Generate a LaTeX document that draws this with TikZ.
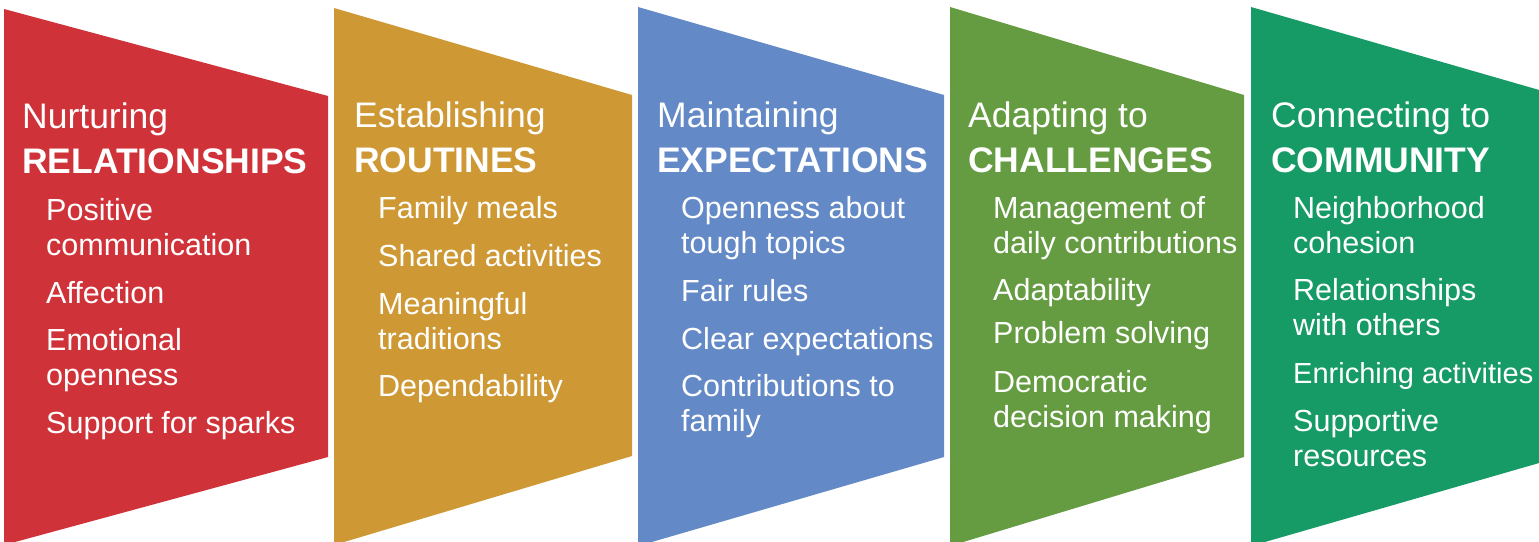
\documentclass[tikz,border=0pt]{standalone}
\usepackage{fontspec}
\setmainfont{Liberation Sans}
\usepackage{tikz}
\usetikzlibrary{positioning}
\definecolor{nurturered}{RGB}{207,51,57}
\definecolor{routinegold}{RGB}{206,153,53}
\definecolor{expectblue}{RGB}{99,137,199}
\definecolor{adaptgreen}{RGB}{101,156,65}
\definecolor{communeteal}{RGB}{22,155,102}
\tikzset{
    % base anchor of a two-line node sits on its last line
    heading/.style={anchor=base west, inner sep=0pt, text=white, align=left,
        font=\fontsize{35.5}{45}\selectfont},
    asset/.style={anchor=base west, inner sep=0pt, text=white, align=left,
        font=\fontsize{30.5}{35}\selectfont},
}

\begin{document}
\begin{tikzpicture}[x=1pt, y=-1pt]
	\useasboundingbox (0,0) rectangle (1539,541);
	\clip (0,0) rectangle (1539,541);
	\fill[white] (0,0) rectangle (1539,541);
%
	\fill[nurturered] (4,9)--(328,96)--(328,457)--(4,545)--cycle;
	\node[heading] (nurt) at (22,173) {Nurturing\\\textbf{RELATIONSHIPS}};
	\node[asset] (nurt1) at (46,255) {Positive\\communication};
	\node[asset] (nurt2) at (46,303) {Affection};
	\node[asset] (nurt3) at (46,385) {Emotional\\openness};
	\node[asset] (nurt4) at (46,433) {Support for sparks};
%
	\fill[routinegold] (334,8)--(632,95)--(632,456)--(334,545)--cycle;
	\node[heading] (rout) at (354,172) {Establishing\\\textbf{ROUTINES}};
	\node[asset] (rout1) at (378,218) {Family meals};
	\node[asset] (rout2) at (378,266) {Shared activities};
	\node[asset] (rout3) at (378,349) {Meaningful\\traditions};
	\node[asset] (rout4) at (378,396) {Dependability};
%
	\fill[expectblue] (638,7)--(944,95)--(944,457)--(638,546)--cycle;
	\node[heading] (expt) at (657,172) {Maintaining\\\textbf{EXPECTATIONS}};
	\node[asset] (expt1) at (681,253) {Openness about\\tough topics};
	\node[asset] (expt2) at (681,301) {Fair rules};
	\node[asset] (expt3) at (681,349) {Clear expectations};
	\node[asset] (expt4) at (681,431) {Contributions to\\family};
%
	\fill[adaptgreen] (950,7)--(1244,95)--(1244,457)--(950,546)--cycle;
	\node[heading] (adpt) at (968,172) {Adapting to\\\textbf{CHALLENGES}};
	\node[asset] (adpt1) at (993,253) {Management of\\daily contributions};
	\node[asset] (adpt2) at (993,300) {Adaptability};
	\node[asset] (adpt3) at (993,343) {Problem solving};
	\node[asset] (adpt4) at (993,427) {Democratic\\decision making};
%
	\fill[communeteal] (1251,7)--(1560,96)--(1560,457)--(1251,546)--cycle;
	\node[heading] (comm) at (1271,172) {Connecting to\\\textbf{COMMUNITY}};
	\node[asset] (comm1) at (1293,253) {Neighborhood\\cohesion};
	\node[asset] (comm2) at (1293,335) {Relationships\\with others};
	\node[asset, font=\fontsize{29}{35}\selectfont] (comm3) at (1293,383) {Enriching activities};
	\node[asset] (comm4) at (1293,466) {Supportive\\resources};
\end{tikzpicture}
\end{document}
